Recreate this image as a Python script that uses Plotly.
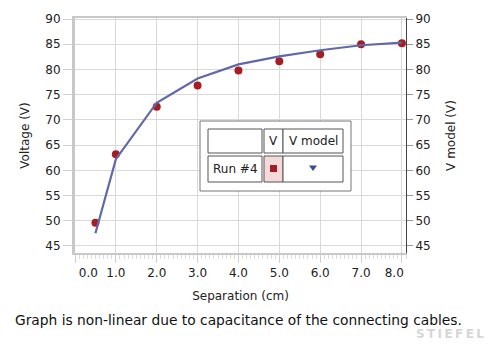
import plotly.graph_objects as go

sep = [0.5, 1.0, 2.0, 3.0, 4.0, 5.0, 6.0, 7.0, 8.0]
v_meas = [49.6, 63.2, 72.6, 76.8, 79.8, 81.6, 83.0, 85.0, 85.2]
v_model = [47.5, 62.2, 73.4, 78.2, 81.0, 82.6, 83.8, 84.8, 85.3]
x_ticks = [0, 1, 2, 3, 4, 5, 6, 7, 8]
x_ticktext = ["\u00a0" * 7 + "0.0", "1.0", "2.0", "3.0", "4.0", "5.0", "6.0", "7.0", "8.0" + "\u00a0" * 4]
y_ticks = [45, 50, 55, 60, 65, 70, 75, 80, 85, 90]

W, H = 500, 351
L, R, T, B = 75, 406, 18, 253
FONT = "DejaVu Sans"


def px(x):
    return (x - L) / (R - L)


def py(y):
    return (B - y) / (B - T)


fig = go.Figure()
fig.add_trace(go.Scatter(x=sep, y=v_model, mode="lines", yaxis="y2",
                         line=dict(color="#6068a8", width=2.2), showlegend=False))
fig.add_trace(go.Scatter(x=sep, y=v_meas, mode="markers",
                         marker=dict(color="#a51e24", size=8), showlegend=False))

yr = [43.6, 90.2]
fig.update_layout(
    width=W, height=H,
    margin=dict(l=L, r=W - R, t=T, b=H - B),
    paper_bgcolor="white", plot_bgcolor="white",
    font=dict(family=FONT, size=12, color="#222"),
    xaxis=dict(range=[0, 8.1], tickvals=x_ticks, ticktext=x_ticktext,
               showgrid=True, gridcolor="#d9d9d9", gridwidth=1,
               showline=True, linecolor="#c8c8c8", linewidth=2, mirror=True,
               ticks="outside", ticklen=8, tickcolor="#d0d0d0",
               minor=dict(dtick=0.1, ticks="outside", ticklen=4, tickcolor="#dcdcdc", showgrid=False),
               zeroline=False,
               title=dict(text="Separation (cm)", standoff=12, font=dict(size=12))),
    yaxis=dict(range=yr, tickvals=y_ticks, showgrid=True, gridcolor="#d9d9d9",
               showline=True, linecolor="#c8c8c8", linewidth=3,
               ticks="outside", ticklen=9, tickcolor="#d0d0d0", zeroline=False,
               title=dict(text="Voltage (V)", standoff=14, font=dict(size=12))),
    yaxis2=dict(range=yr, tickvals=y_ticks, overlaying="y", side="right",
                showgrid=False, showline=True, linecolor="#444", linewidth=1,
                ticks="outside", ticklen=6, tickcolor="#999", zeroline=False,
                title=dict(text="V model (V)", standoff=16, font=dict(size=12))),
)

shapes = []
# legend box
shapes.append(dict(type="rect", xref="paper", yref="paper",
                   x0=px(200), x1=px(351), y0=py(191), y1=py(121),
                   fillcolor="white", line=dict(color="#777", width=1), layer="above"))
cells = [(208, 262, 129, 153), (264, 283, 129, 153), (283, 343, 129, 153),
         (208, 262, 156, 182), (264, 283, 156, 182), (283, 343, 156, 182)]
for i, (x0, x1, y0, y1) in enumerate(cells):
    shapes.append(dict(type="rect", xref="paper", yref="paper",
                       x0=px(x0), x1=px(x1), y0=py(y1), y1=py(y0),
                       fillcolor="#f6d9d9" if i == 4 else "white",
                       line=dict(color="#555", width=1), layer="above"))
shapes.append(dict(type="rect", xref="paper", yref="paper",
                   x0=px(270), x1=px(277), y0=py(172), y1=py(165),
                   fillcolor="#a51e24", line=dict(width=0), layer="above"))
shapes.append(dict(type="path", xref="paper", yref="paper",
                   path=f"M {px(309)} {py(165.5)} L {px(317)} {py(165.5)} L {px(313)} {py(171)} Z",
                   fillcolor="#3a4a9a", line=dict(width=0), layer="above"))
fig.update_layout(shapes=shapes)


def note(text, x, y, size=12, color="#222", xanchor="center"):
    return dict(text=text, x=px(x), y=py(y), xref="paper", yref="paper", showarrow=False,
                xanchor=xanchor, yanchor="middle", font=dict(size=size, color=color))


ann = [
    note("V", 273.5, 141),
    note("V model", 313, 141),
    note("Run #4", 235, 169),
    note("Graph is non-linear due to capacitance of the connecting cables.", 13, 320,
         size=13.8, color="#111", xanchor="left"),
    note("<b>S\u2009T\u2009I\u2009E\u2009F\u2009E\u2009L</b>", 486, 334, size=12, color="#d6d6d6",
         xanchor="right"),
]
fig.update_layout(annotations=ann)

fig.write_html("out.html")
